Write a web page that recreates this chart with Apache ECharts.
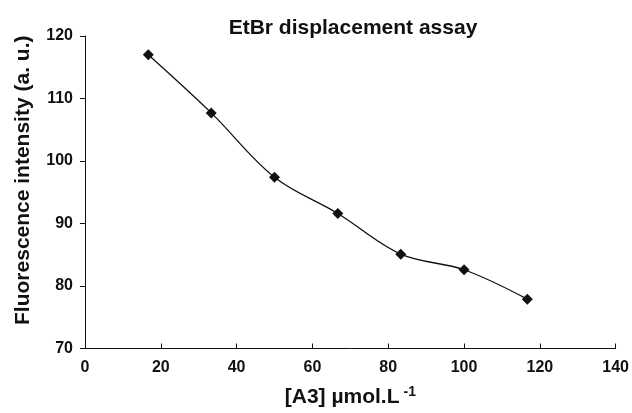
<!DOCTYPE html>
<html>
<head>
<meta charset="utf-8">
<script src="https://cdn.jsdelivr.net/npm/echarts@6/dist/echarts.min.js"></script>
<style>
    html, body { margin: 0; padding: 0; background: #fff; }
    #chart { width: 632px; height: 413px; }
</style>
</head>
<body>
<div id="chart"></div>
<script>
// [A3] concentration, umol/L
const concA3 = [16.7, 33.3, 50, 66.7, 83.3, 100, 116.7];
// fluorescence intensity (a. u.)
const intensity = [117, 107.7, 97.4, 91.6, 85.1, 82.6, 77.9];

const font = 'Liberation Sans, Arial, sans-serif';

const chart = echarts.init(document.getElementById('chart'));

const points = concA3.map((x, i) => [x, intensity[i]]);

const option = {
    backgroundColor: '#fff',
    animation: false,
    title: {
        text: 'EtBr displacement assay',
        left: 348,
        top: 13,
        textAlign: 'center',
        textStyle: {fontFamily: font, fontSize: 21, fontWeight: 'bold', color: '#111'}
    },
    grid: {left: 85, right: 16, top: 36, bottom: 62},
    xAxis: {
        type: 'value',
        min: 0,
        max: 140,
        interval: 20,
        name: '[A3] µmol.L{sup|-1}',
        nameLocation: 'middle',
        nameGap: 37,
        nameTextStyle: {
            fontFamily: font, fontSize: 21, fontWeight: 'bold', color: '#111',
            rich: {
                sup: {fontFamily: font, fontSize: 14, fontWeight: 'bold', color: '#111', verticalAlign: 'top', padding: [0, 0, 10, 4]}
            }
        },
        axisLine: {lineStyle: {color: '#111', width: 1}},
        axisTick: {inside: true, length: 5, lineStyle: {color: '#111'}},
        axisLabel: {margin: 11, fontFamily: font, fontSize: 16, fontWeight: 'bold', color: '#111'},
        splitLine: {show: false}
    },
    yAxis: {
        type: 'value',
        min: 70,
        max: 120,
        interval: 10,
        name: 'Fluorescence intensity (a. u.)',
        nameLocation: 'middle',
        nameGap: 51,
        nameTextStyle: {fontFamily: font, fontSize: 21, fontWeight: 'bold', color: '#111', padding: [0, 0, 0, 24]},
        axisLine: {show: true, lineStyle: {color: '#111', width: 1}},
        axisTick: {show: true, length: 5, lineStyle: {color: '#111'}},
        axisLabel: {margin: 12, fontFamily: font, fontSize: 16, fontWeight: 'bold', color: '#111'},
        splitLine: {show: false}
    },
    series: [{
        type: 'line',
        data: points,
        smooth: 0.35,
        symbol: 'diamond',
        symbolSize: 11,
        itemStyle: {color: '#111'},
        lineStyle: {color: '#111', width: 1.3}
    }]
};

chart.setOption(option);
</script>
</body>
</html>
